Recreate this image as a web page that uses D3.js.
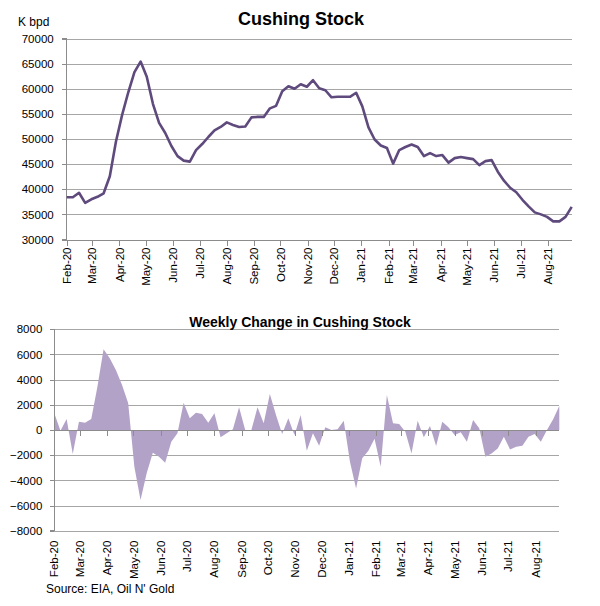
<!DOCTYPE html>
<html>
<head>
  <meta charset="utf-8">
  <title>Cushing Stock</title>
  <script src="https://d3js.org/d3.v7.min.js"></script>
  <style>
    body {
      margin: 0;
      background-color: #fff;
    }
    svg text {
      font-family: "Liberation Sans", Arial, sans-serif;
      fill: #000;
    }
    .grid line {
      stroke: #a6a6a6;
      stroke-width: 1;
      shape-rendering: crispEdges;
    }
    .axis path,
    .axis line {
      stroke: #8c8c8c;
      shape-rendering: crispEdges;
    }
    .axis text {
      font-size: 11.5px;
    }
    .title {
      font-weight: bold;
      text-anchor: middle;
    }
  </style>
</head>
<body>
  <svg id="chart" width="600" height="606"></svg>

  <script>
    // data (weekly, thousand barrels)
    const firstWeek = new Date(2020, 1, 1);
    const weekCount = 83;

    const stockValues = [
      38400, 38400, 39300, 37300, 38000, 38500, 39200, 42600, 49500, 54800,
      59300, 63300, 65400, 62400, 57000, 53200, 51200, 48600, 46600, 45700,
      45500, 47800, 49000, 50400, 51700, 52400, 53300, 52800, 52400, 52500,
      54300, 54400, 54400, 56100, 56600, 59500, 60500, 60000, 60900, 60400,
      61700, 60100, 59700, 58300, 58400, 58400, 58400, 59200, 56500, 52300,
      49900, 48700, 48200, 45100, 47800, 48400, 48900, 48400, 46600, 47200,
      46600, 46800, 45300, 46200, 46400, 46200, 46000, 44800, 45600, 45800,
      43500, 41700, 40300, 39400, 37900, 36600, 35400, 35000, 34500, 33600,
      33600, 34500, 36500
    ];

    const changeValues = [
      1330, -50, 870, -1910, 660, 580, 870, 3440, 6410, 5700,
      4770, 3580, 2120, -2920, -5560, -3440, -1800, -2120, -2600, -930,
      -265, 2170, 930, 1380, 1270, 580, 1330, -580, -265, 50,
      1800, 0, 0, 1800, 530, 2860, 1190, -320, 930, -400,
      1190, -1640, -265, -1250, 210, 0, 50, 740, -2500, -4640,
      -2250, -1650, -700, -2920, 2780, 530, 480, -130, -1860, 740,
      -580, 320, -1270, 660, 210, -400, -185, -930, 800, 130,
      -2120, -1860, -1460, -530, -1540, -1330, -1250, -530, -320, -930,
      0, 850, 1910
    ];

    const monthLabels = [
      "Feb-20", "Mar-20", "Apr-20", "May-20", "Jun-20", "Jul-20", "Aug-20",
      "Sep-20", "Oct-20", "Nov-20", "Dec-20", "Jan-21", "Feb-21", "Mar-21",
      "Apr-21", "May-21", "Jun-21", "Jul-21", "Aug-21"
    ];

    const stockTicks = [30000, 35000, 40000, 45000, 50000, 55000, 60000, 65000, 70000];
    const changeTicks = [-8000, -6000, -4000, -2000, 0, 2000, 4000, 6000, 8000];

    const weeks = d3.range(weekCount).map(i => d3.timeDay.offset(firstWeek, 7 * i));
    const monthDates = monthLabels.map(d3.timeParse("%b-%y"));

    const svg = d3.select("#chart");

    // shared x-axis drawing: rotated month labels
    function drawMonthAxis(g, x, tickY, labelY) {
      const ax = g.append("g")
        .attr("class", "axis")
        .attr("transform", `translate(0,${tickY})`)
        .call(d3.axisBottom(x).tickValues(monthDates).tickSize(5).tickFormat(() => ""));
      ax.select(".domain").remove();

      g.append("g")
        .selectAll("text")
        .data(monthDates)
        .join("text")
        .style("font-size", "11.5px")
        .attr("text-anchor", "end")
        .attr("transform", d => `translate(${x(d)},${labelY}) rotate(-90)`)
        .attr("dy", "0.35em")
        .text((d, i) => monthLabels[i]);
    }

    // **1. Cushing Stock (line)**
    const upper = { left: 66.7, right: 571.7, top: 38.5, bottom: 239.5 };

    const x1 = d3.scaleTime()
      .domain(d3.extent(weeks))
      .range([upper.left, upper.right]);

    const y1 = d3.scaleLinear()
      .domain([30000, 70000])
      .range([upper.bottom, upper.top]);

    const g1 = svg.append("g");

    g1.append("g")
      .attr("class", "grid")
      .selectAll("line")
      .data(stockTicks)
      .join("line")
      .attr("x1", upper.left)
      .attr("x2", upper.right)
      .attr("y1", d => Math.round(y1(d)) + 0.5)
      .attr("y2", d => Math.round(y1(d)) + 0.5);

    g1.append("g")
      .attr("class", "axis")
      .attr("transform", `translate(${upper.left},0)`)
      .call(d3.axisLeft(y1).tickValues(stockTicks).tickSize(5).tickPadding(8).tickFormat(d3.format("d")))
      .call(g => g.select(".domain").attr("d", `M-5,${upper.top}H0V${upper.bottom}H-5`));

    g1.append("line")
      .attr("x1", upper.left).attr("x2", upper.right)
      .attr("y1", Math.round(upper.bottom) + 0.5).attr("y2", Math.round(upper.bottom) + 0.5)
      .attr("stroke", "#8c8c8c")
      .attr("shape-rendering", "crispEdges");

    drawMonthAxis(g1, x1, Math.round(upper.bottom) + 0.5, upper.bottom + 8);

    g1.append("path")
      .datum(stockValues)
      .attr("fill", "none")
      .attr("stroke", "#5f4a7d")
      .attr("stroke-width", 2.6)
      .attr("stroke-linejoin", "round")
      .attr("d", d3.line().x((d, i) => x1(weeks[i])).y(d => y1(d)));

    g1.append("text")
      .attr("class", "title")
      .attr("x", 301)
      .attr("y", 25)
      .style("font-size", "18px")
      .text("Cushing Stock");

    g1.append("text")
      .attr("x", 18)
      .attr("y", 26)
      .style("font-size", "12px")
      .text("K bpd");

    // **2. Weekly change (area)**
    const lower = { left: 54.3, right: 559.3, top: 329.3, bottom: 530.7 };

    const x2 = d3.scaleTime()
      .domain(d3.extent(weeks))
      .range([lower.left, lower.right]);

    const y2 = d3.scaleLinear()
      .domain([-8000, 8000])
      .range([lower.bottom, lower.top]);

    const g2 = svg.append("g");

    g2.append("g")
      .attr("class", "grid")
      .selectAll("line")
      .data(changeTicks)
      .join("line")
      .attr("x1", lower.left)
      .attr("x2", lower.right)
      .attr("y1", d => Math.round(y2(d)) + 0.5)
      .attr("y2", d => Math.round(y2(d)) + 0.5);

    g2.append("path")
      .datum(changeValues)
      .attr("fill", "#b3a2c7")
      .attr("d", d3.area()
        .x((d, i) => x2(weeks[i]))
        .y0(y2(0))
        .y1(d => y2(d)));

    g2.append("g")
      .attr("class", "axis")
      .attr("transform", `translate(${lower.left},0)`)
      .call(d3.axisLeft(y2).tickValues(changeTicks).tickSize(4).tickPadding(8).tickFormat(d3.format("d")))
      .call(g => g.select(".domain").attr("d", `M-4,${lower.top}H0V${lower.bottom}H-4`));

    g2.append("line")
      .attr("x1", lower.left).attr("x2", lower.right)
      .attr("y1", Math.round(y2(0)) + 0.5).attr("y2", Math.round(y2(0)) + 0.5)
      .attr("stroke", "#8c8c8c")
      .attr("shape-rendering", "crispEdges");

    drawMonthAxis(g2, x2, Math.round(y2(0)) + 0.5, lower.bottom + 10);

    g2.append("text")
      .attr("class", "title")
      .attr("x", 300)
      .attr("y", 327)
      .style("font-size", "14px")
      .text("Weekly Change in Cushing Stock");

    svg.append("text")
      .attr("x", 46)
      .attr("y", 593)
      .style("font-size", "12px")
      .text("Source: EIA, Oil N' Gold");
  </script>
</body>
</html>
